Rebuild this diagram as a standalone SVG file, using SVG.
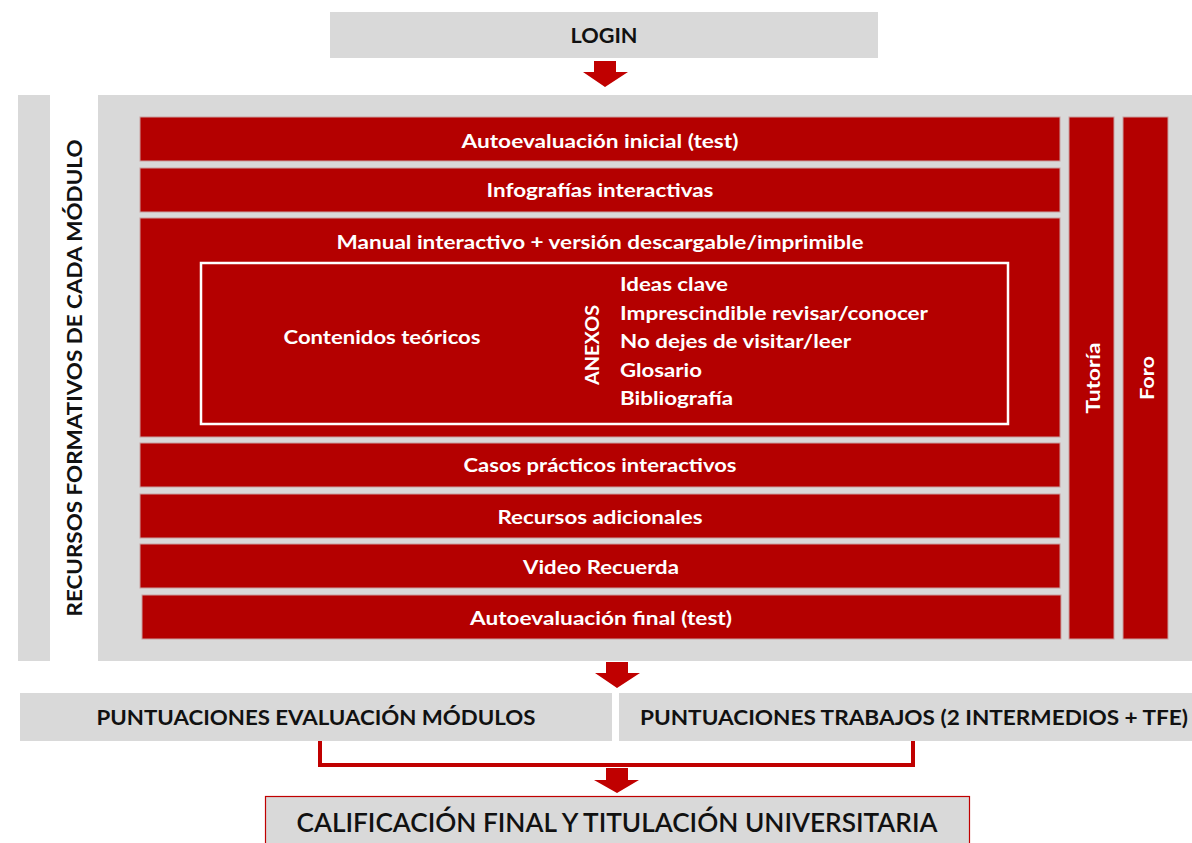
<svg xmlns="http://www.w3.org/2000/svg" width="1192" height="843" viewBox="0 0 1192 843">
<defs>
<style>
.grey{fill:#D9D9D9;}
.bar{fill:#B40000;stroke:#C9A0A0;stroke-width:1;}
.wt{fill:#FFFFFF;font-family:Lato,"Open Sans","Liberation Sans",sans-serif;font-weight:bold;font-size:18px;dominant-baseline:central;}
.bt{fill:#111111;font-family:Lato,"Open Sans","Liberation Sans",sans-serif;font-weight:bold;font-size:20px;dominant-baseline:central;}
.c{text-anchor:middle;}
.arrow{fill:#C00000;}
</style>
</defs>
<rect x="0" y="0" width="1192" height="843" fill="#FFFFFF"/>

<g id="login">
<rect class="grey" x="330" y="12" width="548" height="46"/>
<text class="bt c" x="604" y="35" textLength="67" lengthAdjust="spacingAndGlyphs">LOGIN</text>
</g>

<g id="recursos-label">
<rect class="grey" x="18" y="95" width="32" height="566"/>
<text class="bt c" transform="translate(74,378) rotate(-90)" x="0" y="0" textLength="477" lengthAdjust="spacingAndGlyphs">RECURSOS FORMATIVOS DE CADA MÓDULO</text>
</g>

<g id="recursos">
<rect class="grey" x="98" y="95" width="1094" height="566"/>
</g>

<g id="autoeval-inicial">
<rect class="bar" x="140" y="117" width="920" height="44"/>
<text class="wt c" x="600" y="141" textLength="277" lengthAdjust="spacingAndGlyphs">Autoevaluación inicial (test)</text>
</g>

<g id="infografias">
<rect class="bar" x="140" y="168" width="920" height="44"/>
<text class="wt c" x="600" y="190" textLength="227" lengthAdjust="spacingAndGlyphs">Infografías interactivas</text>
</g>

<g id="manual">
<rect class="bar" x="140" y="218" width="920" height="219"/>
<text class="wt c" x="600" y="242" textLength="527" lengthAdjust="spacingAndGlyphs">Manual interactivo + versión descargable/imprimible</text>
<rect x="201" y="263" width="807" height="161" fill="none" stroke="#FFFFFF" stroke-width="2.5"/>
<text class="wt c" x="382" y="337" textLength="197" lengthAdjust="spacingAndGlyphs">Contenidos teóricos</text>
<text class="wt c" transform="translate(592,345) rotate(-90)" x="0" y="0" textLength="80" lengthAdjust="spacingAndGlyphs">ANEXOS</text>
<text class="wt" x="620" y="284" textLength="108" lengthAdjust="spacingAndGlyphs">Ideas clave</text>
<text class="wt" x="620" y="313" textLength="308" lengthAdjust="spacingAndGlyphs">Imprescindible revisar/conocer</text>
<text class="wt" x="620" y="341" textLength="231" lengthAdjust="spacingAndGlyphs">No dejes de visitar/leer</text>
<text class="wt" x="620" y="370" textLength="82" lengthAdjust="spacingAndGlyphs">Glosario</text>
<text class="wt" x="620" y="398" textLength="113" lengthAdjust="spacingAndGlyphs">Bibliografía</text>
</g>

<g id="casos">
<rect class="bar" x="140" y="443" width="920" height="44"/>
<text class="wt c" x="600" y="465" textLength="273" lengthAdjust="spacingAndGlyphs">Casos prácticos interactivos</text>
</g>

<g id="recursos-adicionales">
<rect class="bar" x="140" y="494" width="920" height="44"/>
<text class="wt c" x="600" y="517" textLength="205" lengthAdjust="spacingAndGlyphs">Recursos adicionales</text>
</g>

<g id="video">
<rect class="bar" x="140" y="544" width="920" height="44"/>
<text class="wt c" x="601" y="567" textLength="156" lengthAdjust="spacingAndGlyphs">Video Recuerda</text>
</g>

<g id="autoeval-final">
<rect class="bar" x="142" y="595" width="919" height="44"/>
<text class="wt c" x="601" y="618" textLength="262" lengthAdjust="spacingAndGlyphs">Autoevaluación final (test)</text>
</g>

<g id="tutoria">
<rect class="bar" x="1069" y="117" width="45" height="522"/>
<text class="wt c" transform="translate(1093,378) rotate(-90)" x="0" y="0" textLength="71" lengthAdjust="spacingAndGlyphs">Tutoría</text>
</g>

<g id="foro">
<rect class="bar" x="1123" y="117" width="45" height="522"/>
<text class="wt c" transform="translate(1147,378) rotate(-90)" x="0" y="0" textLength="44" lengthAdjust="spacingAndGlyphs">Foro</text>
</g>

<g id="punt-modulos">
<rect class="grey" x="20" y="693" width="592" height="48"/>
<text class="bt c" x="316" y="717" textLength="439" lengthAdjust="spacingAndGlyphs">PUNTUACIONES EVALUACIÓN MÓDULOS</text>
</g>

<g id="punt-trabajos">
<rect class="grey" x="619" y="693" width="573" height="48"/>
<text class="bt c" x="914" y="717" textLength="548" lengthAdjust="spacingAndGlyphs">PUNTUACIONES TRABAJOS (2 INTERMEDIOS + TFE)</text>
</g>

<g id="calificacion">
<rect x="265.5" y="796.5" width="704" height="60" fill="#D9D9D9" stroke="#C00000" stroke-width="1.2"/>
<text class="bt c" x="617" y="822" font-size="26" textLength="641" lengthAdjust="spacingAndGlyphs" style="font-size:26px;font-weight:600">CALIFICACIÓN FINAL Y TITULACIÓN UNIVERSITARIA</text>
</g>

<g id="connectors">
<polygon class="arrow" points="594,61 616,61 616,72 628,72 605,87 583,72 594,72"/>
<polygon class="arrow" points="606,662 628,662 628,673 640,673 617,688 595,673 606,673"/>
<polyline points="320,741 320,765 913,765 913,741" fill="none" stroke="#C00000" stroke-width="4"/>
<polygon class="arrow" points="606,768 628,768 628,780 639,780 617,793 594,780 606,780"/>
</g>
</svg>
